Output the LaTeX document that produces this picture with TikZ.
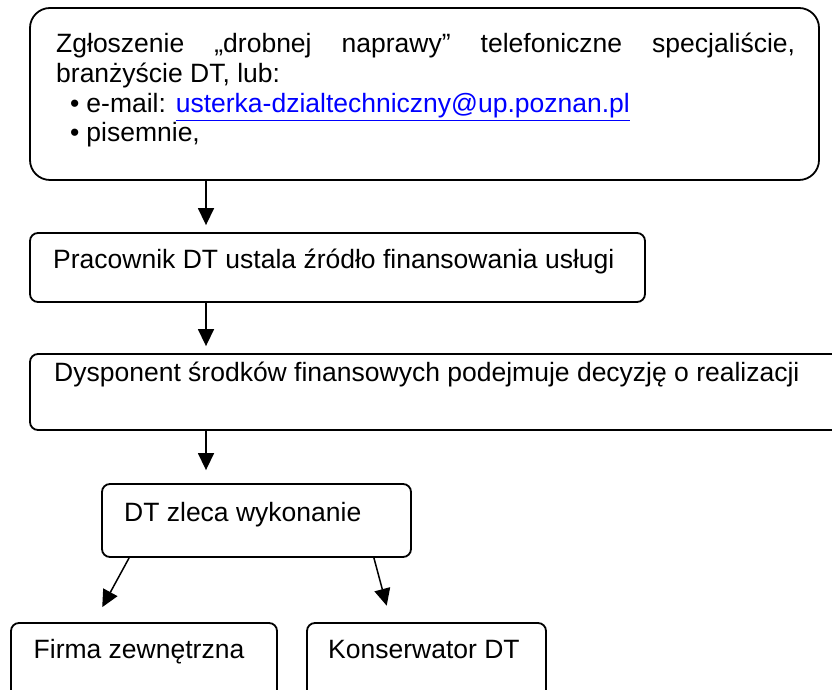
\documentclass[tikz,border=0pt]{standalone}
\usepackage{fontspec}
\setmainfont{Liberation Sans}
\usetikzlibrary{arrows.meta}
\definecolor{linkblue}{RGB}{0,0,255}
\begin{document}
\begin{tikzpicture}[x=1pt,y=1pt,
  box/.style={draw, line width=1.8pt, rounded corners=8pt, inner sep=0pt},
  lbl/.style={inner sep=0pt, anchor=base west, font=\fontsize{26.5}{30}\selectfont},
  arr/.style={-{Triangle[length=17pt,width=16pt]}, line width=1.5pt}]
\useasboundingbox (0,0) rectangle (832,690);
\clip (0,0) rectangle (832,690);
% boxes
\node[box, rounded corners=20pt, minimum width=789pt, minimum height=172pt] (b1) at (424.5,596) {};
\node[box, minimum width=615pt, minimum height=69pt] (b2) at (337.5,422.5) {};
\node[box, minimum width=812pt, minimum height=76pt] (b3) at (436,298) {};
\node[box, minimum width=309pt, minimum height=73pt] (b4) at (256.5,169.5) {};
\node[box, minimum width=266pt, minimum height=77pt] (b5) at (144,28.5) {};
\node[box, minimum width=239pt, minimum height=77pt] (b6) at (426.5,28.5) {};
% texts
\node[lbl] (t1a) at (56,637) {\makebox[739pt][s]{Zgłoszenie „drobnej naprawy” telefoniczne specjaliście,}};
\node[lbl] (t1b) at (56,607) {branżyście DT, lub:};
\node[lbl] (t1c) at (70,577) {•\hspace{7pt}e-mail: \textcolor{linkblue}{\underline{usterka-dzialtechniczny@up.poznan.pl}}};
\node[lbl] (t1d) at (70,548) {•\hspace{7pt}pisemnie,};
\node[lbl] (t2) at (53,421) {Pracownik DT ustala źródło finansowania usługi};
\node[lbl] (t3) at (54,308) {Dysponent środków finansowych podejmuje decyzję o realizacji};
\node[lbl] (t4) at (124,168) {DT zleca wykonanie};
\node[lbl] (t5) at (33.5,31) {Firma zewnętrzna};
\node[lbl] (t6) at (328,31) {Konserwator DT};
% arrows
\coordinate (ax) at (206,0);
\draw[arr, shorten >=7pt] (b1.south -| ax) -- (b2.north -| ax);
\draw[arr, shorten >=7pt] (b2.south -| ax) -- (b3.north -| ax);
\draw[arr, shorten >=13pt] (b3.south -| ax) -- (b4.north -| ax);
\draw[arr, shorten >=17pt] ([xshift=28pt]b4.south west) -- ([xshift=84pt]b5.north west);
\draw[arr, shorten >=17pt] ([xshift=-38pt]b4.south east) -- ([xshift=85pt]b6.north west);
\end{tikzpicture}
\end{document}
